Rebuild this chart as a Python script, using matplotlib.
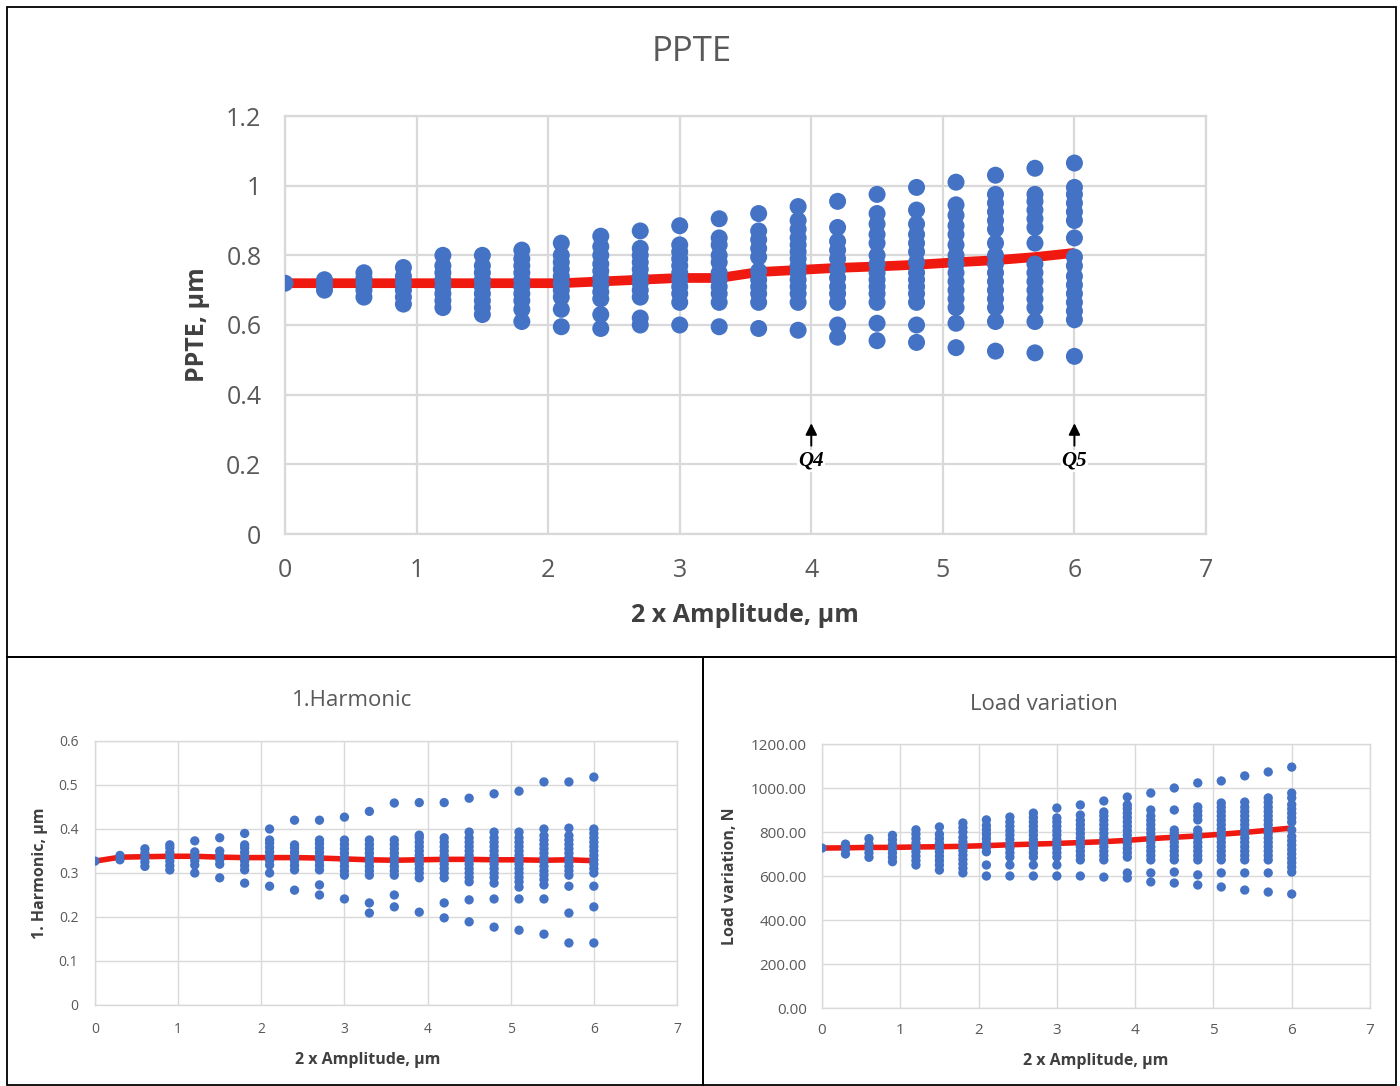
import matplotlib
matplotlib.use('Agg')
import matplotlib.pyplot as plt
from matplotlib.patches import Rectangle

# amplitude steps (2 x amplitude, um)
amp = [0.0, 0.3, 0.6, 0.9, 1.2, 1.5, 1.8, 2.1, 2.4, 2.7, 3.0,
       3.3, 3.6, 3.9, 4.2, 4.5, 4.8, 5.1, 5.4, 5.7, 6.0]

# PPTE, um - scatter of each amplitude step
ppte_cols = [
    [0.72],
    [0.70, 0.715, 0.73],
    [0.68, 0.70, 0.72, 0.735, 0.75],
    [0.66, 0.68, 0.70, 0.72, 0.74, 0.765],
    [0.65, 0.67, 0.69, 0.71, 0.73, 0.75, 0.77, 0.80],
    [0.63, 0.65, 0.67, 0.69, 0.71, 0.73, 0.75, 0.77, 0.80],
    [0.61, 0.645, 0.67, 0.69, 0.71, 0.73, 0.75, 0.77, 0.79, 0.815],
    [0.595, 0.645, 0.68, 0.70, 0.72, 0.74, 0.76, 0.78, 0.80, 0.835],
    [0.59, 0.63, 0.675, 0.695, 0.715, 0.735, 0.755, 0.775, 0.80, 0.825, 0.855],
    [0.60, 0.62, 0.68, 0.70, 0.72, 0.74, 0.76, 0.78, 0.80, 0.82, 0.87],
    [0.60, 0.665, 0.69, 0.71, 0.73, 0.75, 0.77, 0.79, 0.81, 0.83, 0.885],
    [0.595, 0.665, 0.69, 0.71, 0.73, 0.75, 0.78, 0.80, 0.83, 0.85, 0.905],
    [0.59, 0.665, 0.69, 0.71, 0.73, 0.755, 0.795, 0.82, 0.845, 0.87, 0.92],
    [0.585, 0.665, 0.69, 0.71, 0.73, 0.75, 0.77, 0.79, 0.81, 0.83, 0.85, 0.875, 0.90, 0.94],
    [0.565, 0.60, 0.665, 0.69, 0.71, 0.735, 0.76, 0.79, 0.815, 0.84, 0.88, 0.955],
    [0.555, 0.605, 0.665, 0.69, 0.71, 0.73, 0.75, 0.775, 0.80, 0.835, 0.86, 0.89, 0.92, 0.975],
    [0.55, 0.60, 0.665, 0.69, 0.71, 0.73, 0.75, 0.78, 0.81, 0.835, 0.86, 0.89, 0.93, 0.995],
    [0.535, 0.605, 0.65, 0.675, 0.70, 0.725, 0.75, 0.775, 0.80, 0.83, 0.86, 0.885, 0.915, 0.945, 1.01],
    [0.525, 0.61, 0.65, 0.675, 0.70, 0.725, 0.75, 0.775, 0.80, 0.835, 0.875, 0.90, 0.925, 0.95, 0.975, 1.03],
    [0.52, 0.61, 0.65, 0.675, 0.70, 0.725, 0.75, 0.775, 0.835, 0.88, 0.905, 0.93, 0.955, 0.975, 1.05],
    [0.51, 0.615, 0.64, 0.665, 0.69, 0.715, 0.74, 0.77, 0.795, 0.85, 0.90, 0.925, 0.95, 0.975, 0.995, 1.065],
]
ppte_mean = [0.72, 0.72, 0.72, 0.72, 0.72, 0.72, 0.72, 0.72, 0.725, 0.73, 0.735,
             0.735, 0.752, 0.758, 0.764, 0.768, 0.773, 0.78, 0.786, 0.795, 0.807]

# 1. harmonic, um
harm_cols = [
    [0.327],
    [0.33, 0.34],
    [0.315, 0.325, 0.335, 0.345, 0.355],
    [0.307, 0.317, 0.327, 0.337, 0.347, 0.357, 0.364],
    [0.30, 0.318, 0.328, 0.338, 0.348, 0.373],
    [0.289, 0.32, 0.33, 0.34, 0.35, 0.38],
    [0.277, 0.307, 0.317, 0.327, 0.337, 0.347, 0.357, 0.364, 0.39],
    [0.27, 0.30, 0.318, 0.328, 0.338, 0.348, 0.358, 0.368, 0.375, 0.40],
    [0.261, 0.307, 0.317, 0.327, 0.337, 0.347, 0.357, 0.364, 0.42],
    [0.25, 0.273, 0.307, 0.317, 0.327, 0.337, 0.347, 0.357, 0.367, 0.375, 0.42],
    [0.241, 0.295, 0.305, 0.315, 0.325, 0.335, 0.345, 0.355, 0.365, 0.375, 0.427],
    [0.209, 0.232, 0.295, 0.305, 0.315, 0.325, 0.335, 0.345, 0.355, 0.365, 0.375, 0.44],
    [0.223, 0.25, 0.295, 0.305, 0.315, 0.325, 0.335, 0.345, 0.355, 0.365, 0.375, 0.459],
    [0.211, 0.289, 0.30, 0.31, 0.32, 0.33, 0.34, 0.35, 0.36, 0.37, 0.38, 0.386, 0.46],
    [0.198, 0.232, 0.289, 0.30, 0.31, 0.32, 0.33, 0.34, 0.35, 0.36, 0.37, 0.38, 0.46],
    [0.189, 0.239, 0.28, 0.29, 0.30, 0.31, 0.32, 0.33, 0.34, 0.35, 0.36, 0.37, 0.38, 0.393, 0.47],
    [0.177, 0.241, 0.277, 0.29, 0.30, 0.31, 0.32, 0.33, 0.34, 0.35, 0.36, 0.37, 0.38, 0.393, 0.48],
    [0.17, 0.241, 0.268, 0.28, 0.29, 0.30, 0.31, 0.32, 0.33, 0.34, 0.35, 0.36, 0.37, 0.38, 0.393, 0.486],
    [0.161, 0.241, 0.273, 0.285, 0.295, 0.305, 0.315, 0.325, 0.335, 0.345, 0.355, 0.365, 0.375, 0.385, 0.40, 0.507],
    [0.141, 0.209, 0.27, 0.295, 0.305, 0.315, 0.325, 0.335, 0.345, 0.355, 0.365, 0.375, 0.385, 0.402, 0.507],
    [0.141, 0.223, 0.27, 0.30, 0.31, 0.32, 0.33, 0.34, 0.35, 0.36, 0.37, 0.38, 0.39, 0.40, 0.518],
]
harm_mean = [0.327, 0.336, 0.337, 0.338, 0.338, 0.336, 0.335, 0.335, 0.335, 0.334, 0.332,
             0.33, 0.329, 0.33, 0.331, 0.331, 0.33, 0.33, 0.329, 0.33, 0.328]

# load variation, N
load_cols = [
    [727],
    [700, 722, 745],
    [685, 705, 725, 745, 770],
    [665, 685, 705, 725, 745, 765, 785],
    [650, 670, 690, 710, 730, 750, 770, 790, 810],
    [627, 650, 670, 690, 710, 730, 750, 770, 790, 823],
    [614, 635, 655, 675, 695, 715, 735, 755, 775, 800, 820, 841],
    [600, 650, 710, 730, 750, 770, 790, 810, 830, 855],
    [600, 650, 686, 706, 726, 746, 766, 786, 806, 826, 846, 868],
    [600, 650, 686, 706, 726, 746, 766, 786, 806, 826, 846, 866, 886],
    [600, 650, 686, 706, 726, 746, 766, 786, 806, 826, 846, 864, 909],
    [600, 673, 693, 713, 733, 753, 773, 793, 813, 833, 853, 877, 923],
    [595, 673, 693, 713, 733, 753, 773, 793, 813, 833, 853, 873, 891, 941],
    [591, 614, 686, 706, 726, 746, 766, 786, 806, 826, 846, 866, 886, 906, 923, 959],
    [573, 614, 673, 693, 713, 733, 753, 773, 793, 813, 833, 853, 873, 900, 977],
    [568, 618, 673, 693, 713, 733, 753, 773, 793, 809, 900, 1000],
    [559, 605, 673, 693, 713, 733, 753, 773, 793, 809, 855, 875, 895, 914, 1023],
    [550, 614, 673, 693, 713, 733, 753, 773, 793, 813, 833, 853, 873, 893, 913, 932, 1032],
    [536, 614, 673, 693, 713, 733, 753, 773, 793, 813, 833, 853, 873, 893, 913, 936, 1055],
    [527, 614, 673, 693, 713, 733, 753, 773, 793, 813, 833, 853, 873, 893, 913, 935, 955, 1073],
    [518, 618, 640, 660, 680, 700, 720, 740, 760, 780, 809, 845, 865, 885, 905, 925, 955, 977, 1095],
]
load_mean = [727, 728, 730, 730, 732, 733, 735, 738, 742, 745, 748,
             752, 756, 762, 770, 776, 782, 790, 798, 808, 818]

blue = '#4472c4'
red = '#f0190f'
gridc = '#d9d9d9'
tickc = '#595959'
labc = '#404040'
plt.rcParams['font.family'] = ['Open Sans', 'DejaVu Sans']

W, H = 1400, 1086
fig = plt.figure(figsize=(14, 10.86), dpi=100)
fig.patch.set_facecolor('white')


def box(l, t, r, b):
    # figure fraction rect from pixel edges
    return [l / W, 1 - b / H, (r - l) / W, (b - t) / H]


def ftxt(x, y, s, **kw):
    fig.text(x / W, 1 - y / H, s, ha='center', va='center', **kw)


def setup(ax, xmax, ymax, ystep, fs, pad, lw, yfmt=None):
    ax.set_xlim(0, xmax)
    ax.set_ylim(0, ymax)
    ax.set_xticks(range(0, xmax + 1))
    yt = [i * ystep for i in range(int(round(ymax / ystep)) + 1)]
    ax.set_yticks(yt)
    if yfmt:
        ax.set_yticklabels([yfmt.format(v) for v in yt])
    else:
        ax.set_yticklabels(['{:g}'.format(round(v, 2)) for v in yt])
    ax.grid(True, color=gridc, lw=lw)
    ax.set_axisbelow(True)
    for s in ax.spines.values():
        s.set_color(gridc)
        s.set_linewidth(lw)
    ax.tick_params(length=0, labelsize=fs, colors=tickc, pad=pad)


# top panel: PPTE
ax1 = fig.add_axes(box(285, 116, 1206, 534))
setup(ax1, 7, 1.2, 0.2, 18, 17, 1.6)
ax1.plot(amp, ppte_mean, color=red, lw=7, solid_capstyle='butt', zorder=2)
for x, col in zip(amp, ppte_cols):
    ax1.scatter([x] * len(col), col, s=150, color=blue, edgecolors='none', zorder=3)
for q, xq in [('Q4', 4), ('Q5', 6)]:
    ax1.annotate(q, xy=(xq, 0.318), xytext=(xq, 0.21), ha='center', va='center',
                 fontsize=15, fontweight='bold', fontstyle='italic',
                 family=['Liberation Serif', 'DejaVu Serif'],
                 bbox=dict(boxstyle='square,pad=0.05', fc='white', ec='none'),
                 arrowprops=dict(arrowstyle='-|>', color='black', lw=1.4,
                                 mutation_scale=17, shrinkA=3, shrinkB=0))
ftxt(692, 52, 'PPTE', fontsize=25, color=tickc)
ftxt(745, 616, '2 x Amplitude, µm', fontsize=18, fontweight='bold', color=labc)
ftxt(198, 325, 'PPTE, µm', fontsize=18, fontweight='bold', color=labc, rotation=90)

# bottom left: 1. harmonic
ax2 = fig.add_axes(box(95, 741, 677, 1005))
setup(ax2, 7, 0.6, 0.1, 10, 12, 1.0)
ax2.plot(amp, harm_mean, color=red, lw=4, solid_capstyle='butt', zorder=2)
for x, col in zip(amp, harm_cols):
    ax2.scatter([x] * len(col), col, s=45, color=blue, edgecolors='none', zorder=3)
ftxt(352, 701, '1.Harmonic', fontsize=16, color=tickc)
ftxt(368, 1060, '2 x Amplitude, µm', fontsize=11.5, fontweight='bold', color=labc)
ftxt(40, 873, '1. Harmonic, µm', fontsize=11.5, fontweight='bold', color=labc, rotation=90)

# bottom right: load variation
ax3 = fig.add_axes(box(822, 744, 1370, 1008))
setup(ax3, 7, 1200, 200, 11, 11, 1.0, yfmt='{:.2f}')
ax3.plot(amp, load_mean, color=red, lw=4, solid_capstyle='butt', zorder=2)
for x, col in zip(amp, load_cols):
    ax3.scatter([x] * len(col), col, s=45, color=blue, edgecolors='none', zorder=3)
ftxt(1044, 704, 'Load variation', fontsize=16, color=tickc)
ftxt(1096, 1061, '2 x Amplitude, µm', fontsize=11.5, fontweight='bold', color=labc)
ftxt(730, 876, 'Load variation, N', fontsize=11.5, fontweight='bold', color=labc, rotation=90)

# panel frames
for l, t, r, b in [(7, 7, 1396, 657), (7, 657, 703, 1085), (703, 657, 1396, 1085)]:
    fig.add_artist(Rectangle((l / W, 1 - b / H), (r - l) / W, (b - t) / H,
                             transform=fig.transFigure, fill=False,
                             ec='black', lw=1.3))

fig.savefig('out.png', dpi=100)
